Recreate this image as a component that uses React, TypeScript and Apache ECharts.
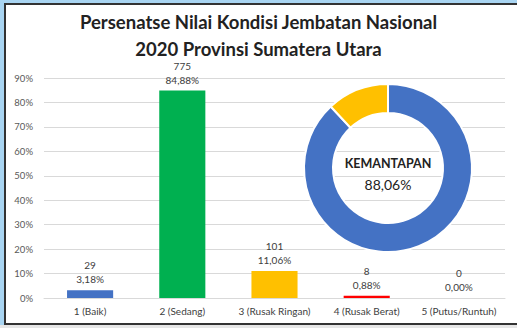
import React, { useEffect, useRef } from "react";
import * as echarts from "echarts";

const categories = ["1 (Baik)", "2 (Sedang)", "3 (Rusak Ringan)", "4 (Rusak Berat)", "5 (Putus/Runtuh)"];
const bridgeCounts = [29, 775, 101, 8, 0];
const bridgePercents = [3.18, 84.88, 11.06, 0.88, 0.0];
const barColors = ["#4472C4", "#00B050", "#FFC000", "#FF0000", "#A5A5A5"];
const stabilityPercent = 88.06;
const stabilityParts = [
  { name: "Mantap", value: stabilityPercent, color: "#4472C4" },
  { name: "Tidak Mantap", value: 11.94, color: "#FFC000" },
];

const fmt = (v: number) => v.toFixed(2).replace(".", ",");
const FONT = "Lato, 'Open Sans', sans-serif";
const DONUT_X = 388;
const DONUT_Y = 168;

export default function App() {
  const ref = useRef<HTMLDivElement>(null);
  useEffect(() => {
    const chart = echarts.init(ref.current!, null, { renderer: "svg" });
    chart.setOption({
      animation: false,
      textStyle: { fontFamily: FONT },
      title: {
        text: "Persenatse Nilai Kondisi Jembatan Nasional\n2020 Provinsi Sumatera Utara",
        left: "center",
        top: 3,
        textStyle: { fontSize: 18.5, fontWeight: "bold", color: "#222", lineHeight: 27, fontFamily: FONT },
      },
      grid: { left: 44, right: 12, top: 78, bottom: 30 },
      xAxis: {
        type: "category",
        data: categories,
        axisLine: { show: true, lineStyle: { color: "#D9D9D9" } },
        axisTick: { show: false },
        axisLabel: { color: "#404040", fontSize: 10, margin: 8, interval: 0, fontFamily: FONT },
      },
      yAxis: {
        type: "value",
        min: 0,
        max: 90,
        interval: 10,
        axisLabel: { formatter: "{value}%", color: "#595959", fontSize: 9.5, margin: 11, fontFamily: FONT },
        splitLine: { lineStyle: { color: "#D9D9D9" } },
        axisLine: { show: false },
        axisTick: { show: false },
      },
      series: [
        {
          type: "bar",
          barWidth: "50%",
          data: bridgePercents.map((v, i) => ({ value: v, itemStyle: { color: barColors[i] } })),
          label: {
            show: true,
            position: "top",
            distance: 4,
            color: "#404040",
            fontSize: 10,
            lineHeight: 14,
            fontFamily: FONT,
            formatter: (p: any) => `${bridgeCounts[p.dataIndex]}\n${fmt(p.value)}%`,
          },
        },
        {
          type: "pie",
          center: [DONUT_X, DONUT_Y],
          radius: [55, 84],
          startAngle: 90,
          clockwise: true,
          label: { show: false },
          labelLine: { show: false },
          itemStyle: { borderColor: "#fff", borderWidth: 2 },
          data: stabilityParts.map((d) => ({ name: d.name, value: d.value, itemStyle: { color: d.color } })),
        },
      ],
      graphic: [
        {
          type: "text",
          z: 100,
          x: DONUT_X,
          y: 163,
          style: {
            text: "KEMANTAPAN",
            textAlign: "center",
            textVerticalAlign: "middle",
            font: `bold 12.5px ${FONT}`,
            fill: "#222",
          },
        },
        {
          type: "text",
          z: 100,
          x: DONUT_X,
          y: 184,
          style: {
            text: `${fmt(stabilityPercent)}%`,
            textAlign: "center",
            textVerticalAlign: "middle",
            font: `14px ${FONT}`,
            fill: "#222",
          },
        },
      ],
    });
    return () => chart.dispose();
  }, []);

  return (
    <div style={{ position: "fixed", left: 0, top: 0, width: 517, height: 328, background: "#A9D5F2", overflow: "hidden" }}>
      <div
        style={{
          position: "absolute",
          left: 4,
          top: 3,
          width: 513,
          height: 322,
          boxSizing: "border-box",
          background: "#fff",
          borderLeft: "2px solid #333",
          borderTop: "2px solid #333",
          borderBottom: "2px solid #333",
        }}
      />
      <div style={{ position: "absolute", left: 0, top: 325, width: 517, height: 3, background: "#E6E6E6" }} />
      <div ref={ref} style={{ position: "absolute", left: 0, top: 0, width: 517, height: 328 }} />
    </div>
  );
}
